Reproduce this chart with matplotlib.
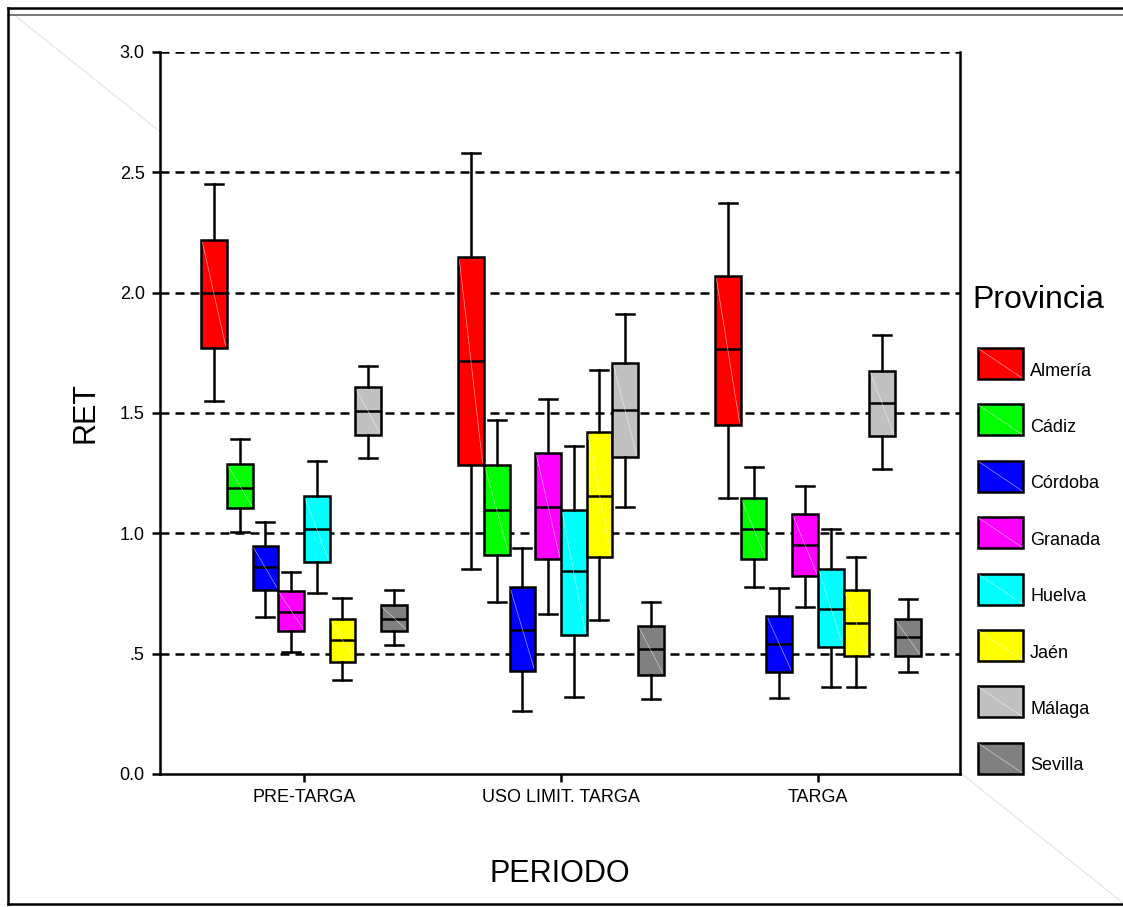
import matplotlib
matplotlib.use("Agg")
import matplotlib.pyplot as plt
from matplotlib.patches import Rectangle
from matplotlib.lines import Line2D

plt.rcParams['font.family'] = ['Liberation Sans', 'DejaVu Sans']

periods = ['PRE-TARGA', 'USO LIMIT. TARGA', 'TARGA']
provincias = ['Almería', 'Cádiz', 'Córdoba', 'Granada', 'Huelva', 'Jaén', 'Málaga', 'Sevilla']
colores = ['#ff0000', '#00ff00', '#0000ff', '#ff00ff', '#00ffff', '#ffff00', '#c0c0c0', '#808080']

# rows = provincia, cols = periodo
whis_lo = [[1.55, 0.853, 1.147],
           [1.005, 0.715, 0.776],
           [0.654, 0.263, 0.316],
           [0.507, 0.665, 0.695],
           [0.754, 0.322, 0.363],
           [0.389, 0.638, 0.363],
           [1.312, 1.108, 1.266],
           [0.536, 0.312, 0.422]]
q1 = [[1.77, 1.284, 1.452],
      [1.107, 0.912, 0.893],
      [0.765, 0.430, 0.424],
      [0.596, 0.893, 0.824],
      [0.881, 0.577, 0.529],
      [0.467, 0.903, 0.489],
      [1.409, 1.316, 1.403],
      [0.594, 0.412, 0.490]]
med = [[2.00, 1.717, 1.765],
       [1.19, 1.098, 1.019],
       [0.86, 0.599, 0.542],
       [0.673, 1.108, 0.950],
       [1.018, 0.844, 0.686],
       [0.556, 1.157, 0.627],
       [1.509, 1.512, 1.540],
       [0.644, 0.521, 0.568]]
q3 = [[2.22, 2.147, 2.068],
      [1.29, 1.284, 1.145],
      [0.949, 0.775, 0.657],
      [0.762, 1.334, 1.079],
      [1.154, 1.097, 0.853],
      [0.644, 1.421, 0.763],
      [1.606, 1.706, 1.676],
      [0.702, 0.616, 0.645]]
whis_hi = [[2.45, 2.580, 2.374],
           [1.39, 1.471, 1.276],
           [1.046, 0.941, 0.774],
           [0.84, 1.560, 1.197],
           [1.302, 1.364, 1.018],
           [0.731, 1.677, 0.902],
           [1.696, 1.913, 1.824],
           [0.763, 0.715, 0.726]]

W, H = 1123, 907
fig = plt.figure(figsize=(W/100, H/100), dpi=100)

# outer frame (SPSS style)
fig.add_artist(Line2D([8/W, 1], [1-10/H, 1-903/H], transform=fig.transFigure, color='#dddddd', lw=0.6, zorder=0))
fig.add_artist(Line2D([8/W, 1], [1-8/H, 1-8/H], transform=fig.transFigure, color='k', lw=1.8))
fig.add_artist(Line2D([8/W, 1], [1-15/H, 1-15/H], transform=fig.transFigure, color='#555555', lw=1.1))
fig.add_artist(Line2D([8/W, 8/W], [1-8/H, 1-904/H], transform=fig.transFigure, color='k', lw=1.8))
fig.add_artist(Line2D([8/W, 1], [1-904/H, 1-904/H], transform=fig.transFigure, color='k', lw=1.8))

ax = fig.add_axes([160/W, 1-774/H, 800/W, 722/H])
ax.set_facecolor('white')

width = 0.1
lw = 1.8
for i, prov in enumerate(provincias):
    stats = []
    pos = []
    for j in range(len(periods)):
        stats.append(dict(whislo=whis_lo[i][j], q1=q1[i][j], med=med[i][j],
                          q3=q3[i][j], whishi=whis_hi[i][j], fliers=[]))
        pos.append(j + (i - 3.5) * width)
    ax.bxp(stats, positions=pos, widths=width, patch_artist=True, showfliers=False,
           boxprops=dict(facecolor=colores[i], edgecolor='k', linewidth=lw),
           medianprops=dict(color='k', linewidth=lw),
           whiskerprops=dict(color='k', linewidth=lw),
           capprops=dict(color='k', linewidth=lw),
           capwidths=width * 0.7, manage_ticks=False, zorder=3)
    # faint diagonal inside each box
    for p, s in zip(pos, stats):
        ax.plot([p - width/2 + 0.005, p + width/2 - 0.005], [s['q3'] - 0.01, s['q1'] + 0.01],
                color='white', lw=0.5, alpha=0.6, zorder=4)

for v in [0.5, 1.0, 1.5, 2.0, 2.5, 3.0]:
    ax.axhline(v, color='k', lw=1.8, dashes=(3.6, 2.4), zorder=1)

ax.set_xlim(-0.56, 2.553)
ax.set_ylim(0, 3.0)
ax.set_yticks([0, 0.5, 1.0, 1.5, 2.0, 2.5, 3.0])
ax.set_yticklabels(['0.0', '.5', '1.0', '1.5', '2.0', '2.5', '3.0'], fontsize=13)
ax.set_xticks(range(len(periods)))
ax.set_xticklabels(periods, fontsize=13)
ax.tick_params(axis='both', direction='out', length=6, width=1.8, pad=5)
ax.spines['top'].set_visible(False)
for s in ['left', 'bottom', 'right']:
    ax.spines[s].set_linewidth(1.8)
ax.set_ylabel('RET', fontsize=22, labelpad=14)
ax.set_xlabel('PERIODO', fontsize=22, labelpad=38)

# legend
fig.text(972/W, 1-300/H, 'Provincia', fontsize=23, va='center', ha='left')
for i, prov in enumerate(provincias):
    top = 348 + i * 56.4
    fig.add_artist(Rectangle((978/W, 1-(top+31)/H), 45/W, 31/H, transform=fig.transFigure,
                             facecolor=colores[i], edgecolor='k', lw=lw))
    fig.add_artist(Line2D([979/W, 1022/W], [1-(top+1)/H, 1-(top+30)/H], transform=fig.transFigure,
                          color='white', lw=0.5, alpha=0.6))
    fig.text(1030/W, 1-(top+23)/H, prov, fontsize=13, va='center', ha='left')

fig.savefig('out.png', dpi=100)
